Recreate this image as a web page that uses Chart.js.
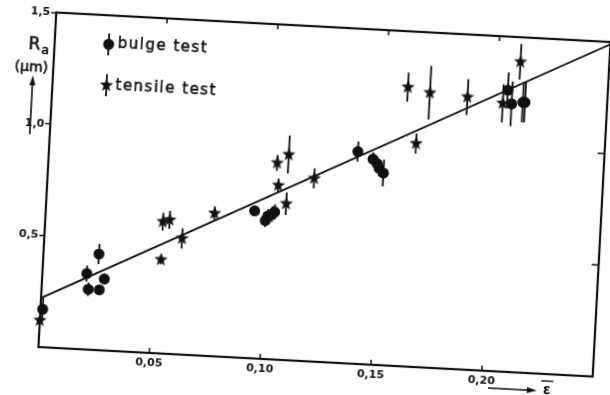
<!DOCTYPE html>
<html>
<head>
<meta charset="utf-8">
<script src="https://cdn.jsdelivr.net/npm/chart.js@4.4.1/dist/chart.umd.min.js"></script>
<style>
  html, body { margin: 0; padding: 0; background: #fff; }
  #wrap { width: 610px; height: 395px; overflow: hidden; }
  /* the scan is tilted by about 3 degrees */
  #plot { transform-origin: 324px 194px; transform: rotate(3.05deg); }
</style>
</head>
<body>
<div id="wrap"><canvas id="plot" width="610" height="395"></canvas></div>
<script>
// bulge test points (strain, Ra in um) and half-length of error bars
const bulgeX = [0.001, 0.020, 0.021, 0.025, 0.026, 0.028, 0.094, 0.099, 0.100, 0.102, 0.103, 0.139, 0.146, 0.148, 0.149, 0.151, 0.205, 0.207, 0.212, 0.213];
const bulgeY = [0.17, 0.34, 0.27, 0.43, 0.27, 0.32, 0.66, 0.62, 0.64, 0.65, 0.66, 0.95, 0.92, 0.90, 0.88, 0.86, 1.26, 1.20, 1.21, 1.21];
const bulgeErr = [0.05, 0.036, 0.03, 0.045, 0.02, 0.025, 0, 0.03, 0.03, 0.035, 0.035, 0.045, 0.03, 0.03, 0.035, 0.06, 0.08, 0.1, 0.09, 0.09];

// tensile test points
const tensileX = [0.000, 0.053, 0.053, 0.056, 0.062, 0.076, 0.103, 0.104, 0.108, 0.108, 0.120, 0.160, 0.165, 0.170, 0.187, 0.203, 0.210];
const tensileY = [0.12, 0.42, 0.59, 0.60, 0.52, 0.64, 0.88, 0.78, 0.70, 0.92, 0.82, 1.25, 1.00, 1.23, 1.22, 1.20, 1.39];
const tensileErr = [0.06, 0.02, 0.04, 0.04, 0.045, 0.03, 0.035, 0.03, 0.05, 0.085, 0.045, 0.065, 0.045, 0.12, 0.08, 0.085, 0.08];

// fitted straight line
const fitX = [0, 0.25];
const fitY = [0.22, 1.49];

// axis ticks
const xTicks = [0.05, 0.10, 0.15, 0.20];
const yTicks = [0.5, 1.0, 1.5];

const INK = '#111';

// filled five-pointed star used as point style
function makeStar(r) {
    const c = document.createElement('canvas');
    c.width = c.height = Math.ceil(r * 2 + 2);
    const g = c.getContext('2d');
    const cx = c.width / 2, cy = c.height / 2;
    g.fillStyle = INK;
    g.beginPath();
    for (let i = 0; i < 10; i++) {
        const rad = i % 2 === 0 ? r : r * 0.42;
        const a = -Math.PI / 2 + i * Math.PI / 5;
        g.lineTo(cx + rad * Math.cos(a), cy + rad * Math.sin(a));
    }
    g.closePath();
    g.fill();
    return c;
}
const star = makeStar(7);

function line(ctx, x1, y1, x2, y2) {
    ctx.beginPath();
    ctx.moveTo(x1, y1);
    ctx.lineTo(x2, y2);
    ctx.stroke();
}

// text drawn a little heavier, like the printed lettering
function inkText(ctx, s, x, y) {
    ctx.fillText(s, x, y);
    ctx.strokeText(s, x, y);
}

const decor = {
    id: 'decor',
    beforeDatasetsDraw(chart) {
        const { ctx, scales: { x, y } } = chart;
        ctx.save();
        ctx.strokeStyle = INK;
        ctx.lineWidth = 1.8;
        const bars = (xs, ys, es) => xs.forEach((v, i) => {
            if (!es[i]) return;
            const px = x.getPixelForValue(v);
            line(ctx, px, y.getPixelForValue(ys[i] - es[i]), px, y.getPixelForValue(ys[i] + es[i]));
        });
        bars(bulgeX, bulgeY, bulgeErr);
        bars(tensileX, tensileY, tensileErr);
        ctx.restore();
    },
    afterDraw(chart) {
        const { ctx, chartArea: a, scales: { x, y } } = chart;
        ctx.save();
        ctx.strokeStyle = INK;
        ctx.fillStyle = INK;

        // frame
        ctx.lineWidth = 2.2;
        ctx.strokeRect(a.left, a.top, a.right - a.left, a.bottom - a.top);

        // inward ticks on bottom, top and right
        ctx.lineWidth = 1.5;
        xTicks.forEach(v => {
            const px = x.getPixelForValue(v);
            line(ctx, px, a.bottom, px, a.bottom - 5);
            line(ctx, px, a.top, px, a.top + 5);
        });
        [0.5, 1.0].forEach(v => {
            const py = y.getPixelForValue(v);
            line(ctx, a.right, py, a.right - 7, py);
        });

        // legend
        ctx.lineWidth = 1.8;
        const lx = a.left + 54;
        const ly1 = a.top + 29, ly2 = a.top + 70;
        line(ctx, lx, ly1 - 11, lx, ly1 + 11);
        ctx.beginPath();
        ctx.arc(lx, ly1, 5.5, 0, Math.PI * 2);
        ctx.fill();
        line(ctx, lx, ly2 - 11, lx, ly2 + 11);
        ctx.drawImage(star, lx - star.width / 2, ly2 - star.height / 2);

        ctx.lineWidth = 0.5;
        ctx.font = '15px "DejaVu Sans"';
        ctx.letterSpacing = '1.5px';
        ctx.textBaseline = 'middle';
        ctx.textAlign = 'left';
        inkText(ctx, 'bulge test', a.left + 63, ly1 - 1);
        inkText(ctx, 'tensile test', a.left + 63, ly2);
        ctx.letterSpacing = '0px';

        // y axis title with arrow
        ctx.textAlign = 'center';
        ctx.font = '17px "DejaVu Sans"';
        inkText(ctx, 'R', 27, 61);
        ctx.font = '13px "DejaVu Sans"';
        inkText(ctx, 'a', 38, 66);
        ctx.font = '14px "DejaVu Sans"';
        inkText(ctx, '(μm)', 25, 83);
        ctx.lineWidth = 1.6;
        line(ctx, 27, 150, 27, 96);
        ctx.beginPath();
        ctx.moveTo(27, 91); ctx.lineTo(24, 101); ctx.lineTo(30, 101);
        ctx.closePath(); ctx.fill();

        // x axis title with arrow
        line(ctx, 498, 379, 540, 379);
        ctx.beginPath();
        ctx.moveTo(547, 379); ctx.lineTo(537, 376); ctx.lineTo(537, 382);
        ctx.closePath(); ctx.fill();
        ctx.font = 'bold 14px "DejaVu Sans"';
        ctx.fillText('ε', 557, 378);
        ctx.lineWidth = 1.4;
        line(ctx, 551, 369, 563, 369);
        ctx.restore();
    }
};

const bulgePts = bulgeX.map((v, i) => ({ x: v, y: bulgeY[i] }));
const tensilePts = tensileX.map((v, i) => ({ x: v, y: tensileY[i] }));
const fitPts = fitX.map((v, i) => ({ x: v, y: fitY[i] }));

new Chart(document.getElementById('plot'), {
    type: 'scatter',
    data: {
        datasets: [
            {
                type: 'line',
                label: 'fit',
                data: fitPts,
                borderColor: INK,
                borderWidth: 1.8,
                pointRadius: 0,
                fill: false,
            },
            {
                label: 'bulge test',
                data: bulgePts,
                pointStyle: 'circle',
                pointRadius: 5.5,
                backgroundColor: INK,
                borderWidth: 0,
                clip: false,
            },
            {
                label: 'tensile test',
                data: tensilePts,
                pointStyle: star,
                clip: false,
            },
        ],
    },
    options: {
        responsive: false,
        animation: false,
        events: [],
        layout: { padding: { top: 27, right: 8, left: 0, bottom: 0 } },
        plugins: { legend: { display: false }, tooltip: { enabled: false } },
        scales: {
            x: {
                type: 'linear',
                min: 0,
                max: 0.25,
                afterBuildTicks: s => { s.ticks = xTicks.map(v => ({ value: v })); },
                afterFit: s => { s.height = 33; },
                grid: { display: false, drawTicks: false },
                border: { display: false },
                ticks: {
                    padding: 4,
                    color: INK,
                    font: { family: 'DejaVu Sans', size: 11, weight: 'bold' },
                    callback: v => v.toFixed(2).replace('.', ','),
                },
            },
            y: {
                type: 'linear',
                min: 0,
                max: 1.5,
                afterBuildTicks: s => { s.ticks = yTicks.map(v => ({ value: v })); },
                afterFit: s => { s.width = 47; },
                grid: { drawOnChartArea: false, tickLength: 5, tickColor: INK, tickWidth: 1.5 },
                border: { display: false },
                ticks: {
                    padding: 1,
                    color: INK,
                    font: { family: 'DejaVu Sans', size: 11, weight: 'bold' },
                    callback: v => v.toFixed(1).replace('.', ','),
                },
            },
        },
    },
    plugins: [decor],
});
</script>
</body>
</html>
